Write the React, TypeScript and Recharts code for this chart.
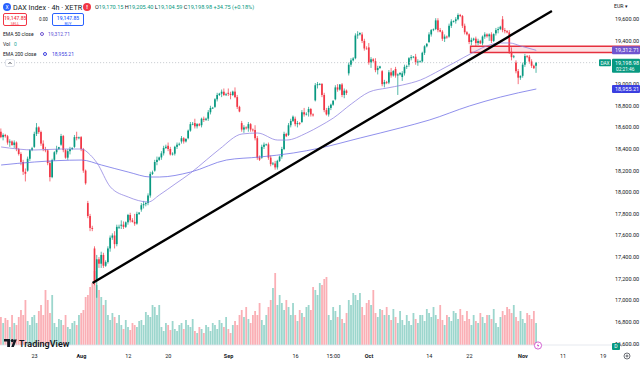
import React from 'react';
import {
  ComposedChart,
  Bar,
  Line,
  XAxis,
  YAxis,
  ReferenceLine,
  ReferenceArea,
  Cell,
} from 'recharts';

// DAX Index 4h, three bars per session, Jul 16 -> Nov 5 : [open, high, low, close]
const bars: number[][] = [
  [18560,18590,18500,18510],[18510,18545,18480,18530],[18530,18540,18505,18518],
  [18518,18530,18440,18460],[18460,18490,18420,18470],[18470,18480,18430,18437],
  [18437,18480,18410,18460],[18460,18470,18380,18400],[18400,18410,18340,18354],
  [18354,18370,18250,18280],[18280,18300,18160,18190],[18190,18220,18100,18171],
  [18200,18330,18190,18310],[18310,18400,18290,18390],[18390,18420,18380,18407],
  [18420,18560,18410,18540],[18540,18640,18520,18600],[18600,18610,18540,18557],
  [18557,18570,18430,18450],[18450,18480,18380,18400],[18400,18420,18370,18387],
  [18387,18400,18250,18270],[18270,18290,18100,18140],[18140,18310,18130,18298],
  [18300,18380,18290,18370],[18370,18430,18350,18400],[18400,18420,18390,18417],
  [18440,18540,18430,18520],[18520,18530,18370,18390],[18390,18400,18310,18320],
  [18320,18400,18300,18380],[18380,18420,18350,18400],[18400,18415,18390,18411],
  [18420,18530,18410,18510],[18510,18560,18480,18500],[18500,18515,18490,18508],
  [18510,18520,18380,18400],[18400,18410,18180,18200],[18200,18210,18070,18083],
  [17900,17920,17760,17780],[17780,17800,17640,17670],[17670,17690,17640,17661],
  [17480,17500,17140,17180],[17180,17420,17024,17380],[17380,17400,17300,17339],
  [17339,17450,17300,17420],[17420,17440,17300,17320],[17320,17370,17310,17354],
  [17354,17500,17340,17480],[17480,17600,17450,17580],[17580,17620,17560,17600],
  [17600,17640,17480,17520],[17520,17700,17500,17680],[17680,17700,17660,17680],
  [17690,17740,17660,17700],[17700,17730,17660,17680],[17680,17730,17670,17722],
  [17722,17800,17700,17790],[17790,17810,17720,17740],[17740,17760,17720,17726],
  [17726,17800,17690,17710],[17710,17820,17700,17800],[17800,17815,17790,17812],
  [17840,17900,17820,17880],[17880,17920,17850,17890],[17890,17910,17870,17900],
  [17900,17990,17880,17970],[17970,18190,17950,18170],[18170,18200,18160,18184],
  [18200,18300,18190,18280],[18280,18330,18250,18300],[18300,18330,18290,18322],
  [18322,18380,18300,18360],[18360,18430,18340,18410],[18410,18440,18400,18421],
  [18430,18460,18380,18400],[18400,18420,18340,18350],[18350,18370,18340,18357],
  [18357,18430,18340,18420],[18420,18460,18400,18440],[18440,18460,18430,18448],
  [18470,18520,18450,18500],[18500,18510,18450,18470],[18470,18500,18460,18493],
  [18500,18580,18490,18570],[18570,18650,18560,18630],[18630,18650,18620,18633],
  [18640,18680,18590,18610],[18610,18640,18590,18630],[18630,18640,18610,18617],
  [18620,18690,18600,18680],[18680,18700,18650,18670],[18670,18690,18660,18681],
  [18681,18760,18660,18740],[18740,18800,18720,18780],[18780,18790,18770,18782],
  [18790,18870,18780,18860],[18860,18920,18840,18900],[18900,18920,18890,18912],
  [18912,18950,18880,18930],[18930,18960,18890,18900],[18900,18920,18890,18906],
  [18920,18960,18890,18910],[18910,18930,18860,18900],[18900,18940,18890,18931],
  [18931,18970,18870,18880],[18880,18900,18770,18790],[18790,18800,18740,18747],
  [18640,18660,18560,18580],[18580,18620,18550,18600],[18600,18610,18580,18591],
  [18591,18650,18560,18630],[18630,18640,18560,18580],[18580,18590,18560,18576],
  [18576,18620,18480,18500],[18500,18520,18300,18320],[18320,18340,18290,18301],
  [18320,18440,18310,18420],[18420,18460,18400,18440],[18440,18450,18430,18443],
  [18443,18460,18300,18320],[18320,18340,18240,18260],[18260,18280,18250,18266],
  [18266,18290,18209,18230],[18230,18300,18210,18290],[18290,18340,18280,18330],
  [18330,18420,18310,18400],[18400,18560,18390,18540],[18540,18550,18510,18518],
  [18530,18640,18520,18620],[18620,18680,18600,18660],[18660,18710,18650,18699],
  [18680,18700,18610,18630],[18630,18660,18600,18640],[18640,18650,18620,18633],
  [18650,18760,18640,18740],[18740,18780,18700,18720],[18720,18740,18710,18726],
  [18740,18790,18700,18770],[18770,18780,18700,18720],[18720,18730,18700,18711],
  [18850,19010,18840,18990],[18990,19020,18960,19000],[19000,19010,18990,19002],
  [19002,19010,18880,18900],[18900,18920,18740,18760],[18760,18780,18710,18720],
  [18720,18800,18700,18780],[18780,18820,18760,18810],[18810,18850,18800,18847],
  [18860,18990,18850,18970],[18970,19000,18930,18950],[18950,19000,18940,18997],
  [18997,19010,18880,18900],[18900,18960,18870,18940],[18940,18950,18900,18918],
  [19100,19200,19080,19180],[19180,19240,19160,19220],[19220,19250,19210,19238],
  [19240,19470,19230,19450],[19450,19490,19420,19460],[19460,19480,19450,19473],
  [19460,19480,19380,19400],[19400,19420,19310,19330],[19330,19350,19320,19325],
  [19340,19380,19180,19200],[19200,19250,19150,19230],[19230,19240,19200,19213],
  [19213,19240,19110,19130],[19130,19170,19090,19150],[19150,19170,19140,19164],
  [19120,19130,18980,19000],[19000,19040,18970,19020],[19020,19030,19000,19015],
  [19015,19130,19000,19110],[19110,19150,19060,19080],[19080,19130,19070,19121],
  [19140,19160,19060,19080],[19080,19100,18900,19090],[19090,19110,19080,19104],
  [19066,19120,19030,19100],[19100,19180,19080,19160],[19160,19180,19140,19166],
  [19180,19250,19160,19240],[19240,19270,19220,19250],[19250,19260,19240,19254],
  [19254,19280,19180,19200],[19200,19230,19170,19210],[19210,19220,19200,19211],
  [19211,19300,19200,19290],[19290,19360,19270,19350],[19350,19380,19340,19373],
  [19390,19480,19380,19460],[19460,19510,19440,19500],[19500,19515,19490,19508],
  [19510,19610,19500,19590],[19590,19610,19480,19500],[19500,19520,19480,19486],
  [19486,19500,19400,19420],[19420,19460,19390,19440],[19440,19450,19420,19432],
  [19440,19560,19430,19540],[19540,19600,19520,19580],[19580,19590,19570,19583],
  [19583,19620,19560,19600],[19600,19655,19590,19640],[19640,19650,19620,19630],
  [19630,19640,19520,19540],[19540,19560,19460,19480],[19480,19490,19450,19461],
  [19461,19470,19370,19390],[19390,19430,19360,19410],[19410,19430,19400,19421],
  [19421,19440,19350,19380],[19380,19420,19360,19400],[19400,19410,19370,19377],
  [19377,19450,19360,19440],[19440,19480,19420,19460],[19460,19470,19430,19443],
  [19443,19470,19400,19460],[19460,19480,19380,19400],[19400,19470,19390,19463],
  [19470,19520,19450,19500],[19500,19530,19470,19510],[19510,19540,19500,19531],
  [19600,19630,19480,19500],[19500,19520,19470,19490],[19490,19500,19470,19479],
  [19479,19500,19280,19300],[19300,19340,19220,19250],[19250,19270,19240,19257],
  [19200,19220,19100,19120],[19120,19140,19000,19060],[19060,19080,19040,19077],
  [19077,19200,19060,19180],[19180,19280,19160,19260],[19260,19270,19240,19254],
  [19254,19270,19190,19210],[19210,19230,19150,19170],[19170,19180,19140,19148],
  [19170.15,19205.4,19104.59,19198.98],
];

// volume per bar (millions)
const volumes: number[] = [
  28,22,27, 25,18,30, 22,20,28, 35,30,45, 24,20,28, 30,22,34, 40,30,55, 45,32,50,
  22,18,26, 25,20,30, 18,16,22, 24,20,30, 32,35,48, 50,58,62, 74,60,55, 48,40,45,
  30,25,32, 28,22,30, 20,16,25, 18,15,22, 20,18,24, 25,20,33, 30,28,40, 38,30,40,
  18,14,22, 20,15,24, 16,14,20, 22,16,25, 20,18,26, 14,12,18, 16,12,20, 18,14,22,
  20,16,25, 22,18,28, 16,12,20, 24,20,30, 35,28,38, 26,22,30, 34,30,42, 25,20,30,
  38,45,57, 72,40,50, 42,35,45, 38,30,42, 30,24,35, 32,28,38, 40,35,58, 55,50,62,
  60,66,68, 30,25,38, 34,28,40, 26,22,32, 45,40,52, 50,45,52, 38,30,42, 45,40,55,
  32,28,36, 35,30,38, 30,25,36, 28,22,34, 25,20,30, 24,20,32, 26,22,30, 30,24,36,
  32,28,38, 30,26,40, 25,20,30, 28,24,34, 32,26,36, 30,24,34, 26,20,30, 24,22,32,
  28,22,30, 30,26,36, 22,18,28, 34,30,38, 36,32,40, 28,24,34, 26,22,32, 30,26,34,
  22,
];

// EMA values at some bars: [bar, value]
const ema50Pts: number[][] = [
  [0,18419],[15,18391],[27,18400],[36,18400],[40,18345],[43,18271],[49,18049],[57,17956],
  [66,17910],[71,17975],[78,18076],[85,18178],[92,18298],[98,18400],[108,18539],[115,18548],
  [124,18483],[128,18483],[137,18548],[143,18613],[149,18687],[157,18816],[165,18927],[173,18964],
  [180,18992],[188,19038],[197,19131],[203,19196],[212,19297],[219,19362],[224,19381],[228,19381],
  [233,19353],[240,19312.71],
];
const ema200Pts: number[][] = [
  [0,18252],[15,18280],[36,18298],[45,18252],[57,18187],[67,18141],[71,18141],[85,18187],
  [101,18298],[116,18326],[131,18363],[143,18409],[161,18502],[179,18595],[192,18668],
  [210,18798],[224,18881],[240,18955.21],
];

const timeTicks = [15, 36, 57, 75, 102, 132, 149, 165, 192, 210, 234, 252, 270];
const timeLabels = ['23', 'Aug', '12', '20', 'Sep', '16', '15:00', 'Oct', '14', '22', 'Nov', '11', '19'];
// 19,200 sits under the last-price label
const priceTicks = [16600, 16800, 17000, 17200, 17400, 17600, 17800, 18000, 18200, 18400, 18600, 18800, 19000, 19400, 19600];

const lastPrice = 19198.98;
const ema50Last = 19312.71;
const ema200Last = 18955.21;
const zone = [19293, 19350];
const trend = [[41, 17161], [247, 19677]];

const SLOTS = 287;
const UP = '#089981';
const DOWN = '#f23645';
const EMA50_C = '#6f55d0';
const EMA200_C = '#3b3fe0';
const FONT = 'Roboto, "Noto Sans", sans-serif';

const e50 = new Map(ema50Pts.map((p) => [p[0], p[1]]));
const e200 = new Map(ema200Pts.map((p) => [p[0], p[1]]));

const rows = Array.from({ length: SLOTS }, (_, i) => {
  const r: any = { i };
  const b = bars[i];
  if (b) {
    r.o = b[0]; r.h = b[1]; r.l = b[2]; r.c = b[3];
    r.hl = [b[2], b[1]];
    r.vol = volumes[i];
  }
  if (e50.has(i)) r.e50 = e50.get(i);
  if (e200.has(i)) r.e200 = e200.get(i);
  return r;
});

const fmt = (v: number) =>
  v.toLocaleString('en-US', { minimumFractionDigits: 2, maximumFractionDigits: 2 });

const Candle = (props: any) => {
  const { x, y, width, height, payload } = props;
  if (!payload || payload.o == null) return null;
  const { o, h, l, c } = payload;
  const top = Math.min(y, y + height);
  const full = Math.abs(height);
  const k = h > l ? full / (h - l) : 0;
  const bodyTop = top + (h - Math.max(o, c)) * k;
  const bodyH = Math.max(0.8, Math.abs(o - c) * k);
  const color = c >= o ? UP : DOWN;
  const cx = x + width / 2;
  return (
    <g>
      <line x1={cx} x2={cx} y1={top} y2={top + full} stroke={color} strokeWidth={0.7} />
      <rect x={x} y={bodyTop} width={width} height={bodyH} fill={color} />
    </g>
  );
};

const TimeTick = (props: any) => {
  const { x, payload } = props;
  const label = timeLabels[timeTicks.indexOf(payload.value)];
  const month = ['Aug', 'Sep', 'Oct', 'Nov'].includes(label);
  return (
    <text x={x} y={358} textAnchor="middle" fontSize={5.5} fontWeight={month ? 700 : 400}
      fill="#131722" fontFamily={FONT}>{label}</text>
  );
};

const PriceTick = (props: any) => {
  const { y, payload } = props;
  return (
    <text x={615} y={y + 2} fontSize={5.5} fill="#131722" fontFamily={FONT}>{fmt(payload.value)}</text>
  );
};

// coloured value boxes on the price scale (last price, EMA 50, EMA 200)
const BoxTick = (props: any) => {
  const { y, payload } = props;
  const v = payload.value;
  const isLast = v === lastPrice;
  const color = isLast ? UP : v === ema50Last ? EMA50_C : EMA200_C;
  return (
    <g fontFamily={FONT}>
      {isLast && (
        <g>
          <rect x={599} y={y - 3.5} width={12} height={7} fill={color} rx={1} />
          <text x={605} y={y + 2} textAnchor="middle" fontSize={4.8} fill="#fff">DAX</text>
        </g>
      )}
      <rect x={612} y={y - 4} width={28} height={isLast ? 14 : 8} fill={color} rx={1} />
      <text x={615} y={y + 2} fontSize={5.5} fill="#fff">{fmt(v)}</text>
      {isLast && <text x={616} y={y + 8.5} fontSize={4.8} fill="#fff">02:21:46</text>}
    </g>
  );
};

const txt: React.CSSProperties = { position: 'absolute', whiteSpace: 'nowrap', lineHeight: 1 };

export default function App() {
  return (
    <div style={{ position: 'relative', width: 640, height: 366, background: '#fff', fontFamily: FONT, overflow: 'hidden' }}>
      <style>{'body{margin:0}'}</style>
      <ComposedChart width={640} height={366} data={rows} margin={{ top: 0, right: 0, bottom: 0, left: 0 }}>
        <XAxis xAxisId="x" dataKey="i" type="category" height={21} ticks={timeTicks} interval={0}
          tick={<TimeTick />} tickLine={false} axisLine={{ stroke: '#e0e3eb', strokeWidth: 0.8 }} />
        <XAxis xAxisId="x2" dataKey="i" type="category" hide />
        <YAxis yAxisId="p" orientation="right" mirror domain={[16587, 19778.5]} allowDataOverflow
          ticks={priceTicks} interval={0} tick={<PriceTick />} tickLine={false} axisLine={false} />
        <YAxis yAxisId="lbl" orientation="right" mirror domain={[16587, 19778.5]} allowDataOverflow
          ticks={[ema200Last, lastPrice, ema50Last]} interval={0} tick={<BoxTick />}
          tickLine={false} axisLine={false} />
        <YAxis yAxisId="v" hide domain={[0, 345]} />

        <Bar xAxisId="x2" yAxisId="v" dataKey="vol" barSize={1.8} isAnimationActive={false}>
          {rows.map((r) => (
            <Cell key={r.i} fill={r.c >= r.o ? UP : DOWN} fillOpacity={0.4} />
          ))}
        </Bar>

        <ReferenceArea xAxisId="x" yAxisId="p" x1={211} x2={286} y1={zone[0]} y2={zone[1]}
          fill={DOWN} fillOpacity={0.15} stroke="#e5303e" strokeWidth={1.4} ifOverflow="visible" />
        <ReferenceLine xAxisId="x" yAxisId="p" segment={[{ x: 0, y: lastPrice }, { x: 267, y: lastPrice }]}
          stroke="#b8bbc3" strokeWidth={0.8} strokeDasharray="1 2" />

        <Line xAxisId="x" yAxisId="p" dataKey="e200" type="monotone" stroke="#6b6be6" strokeWidth={0.75}
          dot={false} connectNulls isAnimationActive={false} />
        <Line xAxisId="x" yAxisId="p" dataKey="e50" type="monotone" stroke="#8c80e0" strokeWidth={0.75}
          dot={false} connectNulls isAnimationActive={false} />

        <Bar xAxisId="x" yAxisId="p" dataKey="hl" barSize={1.7} shape={<Candle />} isAnimationActive={false} />

        <ReferenceLine xAxisId="x" yAxisId="p"
          segment={[{ x: trend[0][0], y: trend[0][1] }, { x: trend[1][0], y: trend[1][1] }]}
          stroke="#000" strokeWidth={2.4} ifOverflow="visible" />
      </ComposedChart>

      {/* legend */}
      <div style={{ ...txt, left: 3, top: 3, width: 8, height: 8, borderRadius: 4, background: '#2962ff', color: '#fff', fontSize: 5, textAlign: 'center', lineHeight: '8px' }}>X</div>
      <div style={{ ...txt, left: 13, top: 3.5, fontSize: 7.2, color: '#131722' }}>DAX Index · 4h · XETR</div>
      <div style={{ ...txt, left: 83, top: 3, width: 8, height: 8, borderRadius: 4, background: '#f23645', color: '#fff', fontSize: 6, fontWeight: 700, textAlign: 'center', lineHeight: '8px' }}>!</div>
      <div style={{ ...txt, left: 95, top: 4.5, fontSize: 5.6, color: UP }}>
        <span style={{ color: '#131722' }}>O</span>19,170.15 <span style={{ color: '#131722' }}>H</span>19,205.40{' '}
        <span style={{ color: '#131722' }}>L</span>19,104.59 <span style={{ color: '#131722' }}>C</span>19,198.98 +34.75 (+0.18%)
      </div>

      <div style={{ position: 'absolute', left: 3, top: 13, width: 24, height: 13, boxSizing: 'border-box', border: '0.8px solid #f23645', borderRadius: 2, color: '#f23645', textAlign: 'center' }}>
        <div style={{ fontSize: 5, lineHeight: 1, marginTop: 2, fontWeight: 500 }}>19,147.85</div>
        <div style={{ fontSize: 3.8, lineHeight: 1, marginTop: 1 }}>SELL</div>
      </div>
      <div style={{ ...txt, left: 39, top: 18, fontSize: 4.5, color: '#131722' }}>0.00</div>
      <div style={{ position: 'absolute', left: 52, top: 13, width: 32, height: 13, boxSizing: 'border-box', border: '0.8px solid #2962ff', borderRadius: 2, color: '#2962ff', textAlign: 'center' }}>
        <div style={{ fontSize: 5, lineHeight: 1, marginTop: 2, fontWeight: 500 }}>19,147.85</div>
        <div style={{ fontSize: 3.8, lineHeight: 1, marginTop: 1 }}>BUY</div>
      </div>

      <div style={{ ...txt, left: 3, top: 31.5, fontSize: 5, color: '#131722' }}>EMA 50 close</div>
      <div style={{ position: 'absolute', left: 39.5, top: 31.5, width: 4, height: 4, borderRadius: 3, border: '1px solid ' + EMA50_C, boxSizing: 'border-box' }} />
      <div style={{ ...txt, left: 48, top: 31.5, fontSize: 5, color: '#5b52d6' }}>19,312.71</div>
      <div style={{ ...txt, left: 3, top: 41.5, fontSize: 5, color: '#131722' }}>Vol</div>
      <div style={{ ...txt, left: 14, top: 41.5, fontSize: 5, color: '#26a69a' }}>0</div>
      <div style={{ ...txt, left: 3, top: 51.5, fontSize: 5, color: '#131722' }}>EMA 200 close</div>
      <div style={{ position: 'absolute', left: 42.5, top: 51.5, width: 4, height: 4, borderRadius: 3, border: '1px solid ' + EMA200_C, boxSizing: 'border-box' }} />
      <div style={{ ...txt, left: 52, top: 51.5, fontSize: 5, color: EMA200_C }}>18,955.21</div>
      <div style={{ position: 'absolute', left: 5, top: 59, width: 10, height: 8, boxSizing: 'border-box', border: '0.6px solid #e0e3eb', borderRadius: 2, background: '#fff' }}>
        <svg width={10} height={8} style={{ position: 'absolute', left: -0.6, top: -0.6 }}>
          <polyline points="3.5,5 5,3.3 6.5,5" fill="none" stroke="#131722" strokeWidth={0.7} />
        </svg>
      </div>

      {/* price scale extras */}
      <div style={{ ...txt, left: 614, top: 3.5, fontSize: 5.2, color: '#131722' }}>EUR ▾</div>
      <div style={{ ...txt, left: 612, top: 343, width: 8, height: 7, background: UP, color: '#fff', fontSize: 5, textAlign: 'center', lineHeight: '7px', borderRadius: 1 }}>D</div>

      {/* bottom decorations */}
      <svg style={{ position: 'absolute', left: 0, top: 0 }} width={640} height={366}>
        <g transform="translate(4,339)">
          <path d="M0 0 H6 V8 H3.2 V2.6 H0 Z" fill="#131722" />
          <circle cx={8.3} cy={1.6} r={1.6} fill="#131722" />
          <path d="M7.2 8 L10.2 0.6 H12.8 L9.8 8 Z" fill="#131722" />
        </g>
        <text x={19} y={347} fontSize={9} fontWeight={600} fill="#131722" fontFamily={FONT}>TradingView</text>
        <circle cx={538} cy={345.5} r={3.6} fill="#fff" stroke="#c93fc8" strokeWidth={0.8} />
        <path d="M538.6 343 L536.8 345.8 H538.2 L537.4 348 L539.3 345 H537.9 Z" fill="#c93fc8" />
        <circle cx={627} cy={356} r={3} fill="none" stroke="#131722" strokeWidth={0.6} />
        <circle cx={627} cy={356} r={1} fill="none" stroke="#131722" strokeWidth={0.6} />
      </svg>
    </div>
  );
}
